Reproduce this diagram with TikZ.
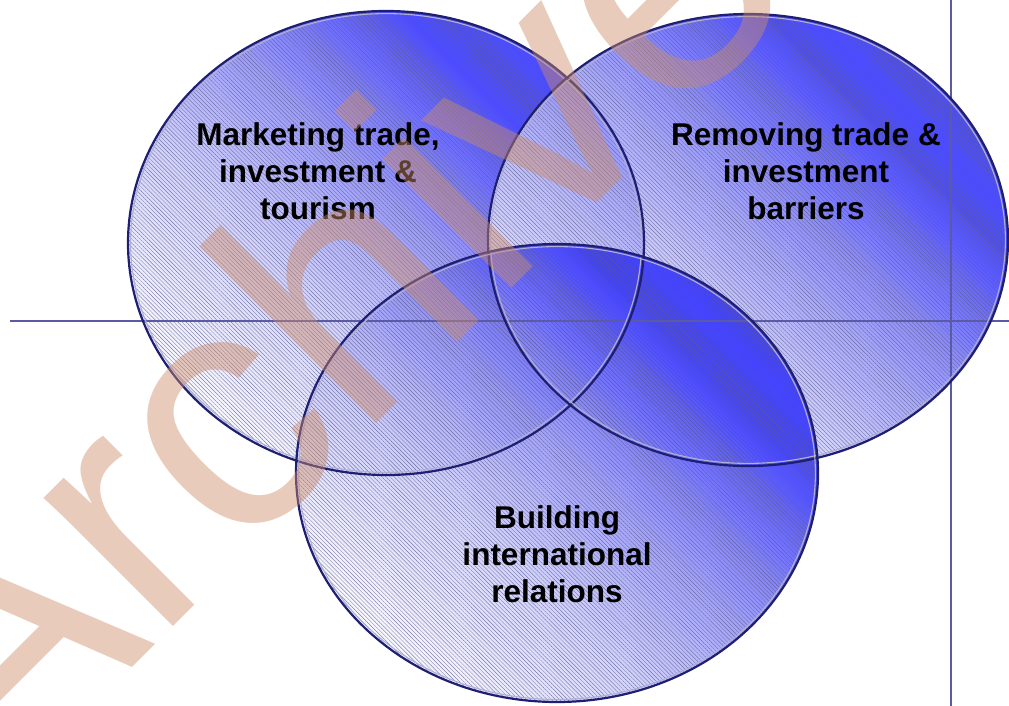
\documentclass[tikz,border=0pt]{standalone}
\usepackage{fontspec}
\setmainfont{Liberation Sans}
\usetikzlibrary{shapes.geometric,patterns.meta}

\definecolor{vlight}{RGB}{246,246,255}
\definecolor{vsoft}{RGB}{200,200,252}
\definecolor{vmid}{RGB}{135,135,250}
\definecolor{vdark}{RGB}{45,45,255}
\definecolor{rimdark}{RGB}{30,30,115}
\definecolor{rimlight}{RGB}{175,175,215}
\definecolor{hatch}{RGB}{95,95,140}
\definecolor{guide}{RGB}{90,90,165}
\definecolor{stamp}{RGB}{205,140,105}

% soft blue fill: pale at one end, saturated blue at the other
\pgfdeclarehorizontalshading{vennfill}{100bp}{%
  color(0bp)=(vlight); color(25bp)=(vlight); color(41bp)=(vsoft);
  color(54bp)=(vmid); color(68bp)=(vdark); color(100bp)=(vdark)}

\begin{document}
\begin{tikzpicture}[x=1pt,y=-1pt,
  vennfill/.style={ellipse, inner sep=0pt, outer sep=0pt,
    shading=vennfill, shading angle=45, fill opacity=0.85,
    postaction={pattern={Lines[angle=-45,distance=2.9pt,line width=0.28pt]},
                pattern color=hatch}},
  rimouter/.style={draw=rimdark, line width=2.2pt},
  riminner/.style={draw=rimlight, line width=1.1pt},
  guideline/.style={draw=guide, line width=1.1pt},
  caption/.style={align=center, text=black, inner sep=0pt,
    font=\bfseries\fontsize{31.5}{37}\selectfont},
  stamptext/.style={inner sep=0pt, text=stamp, text opacity=0.45,
    font=\fontsize{345}{345}\selectfont}]

\useasboundingbox (0,0) rectangle (1009,706);
\clip (0,0) rectangle (1009,706);

% filled circles of the Venn diagram
\node[vennfill, minimum width=516pt, minimum height=464pt] (mkt) at (386,243) {};
\node[vennfill, minimum width=520pt, minimum height=452pt] (rem) at (748,240) {};
\node[vennfill, minimum width=522pt, minimum height=458pt] (bld) at (557,473) {};

% guide lines
\coordinate (hl) at (10,321);
\coordinate (hr) at (1009,321);
\coordinate (vt) at (951,0);
\coordinate (vb) at (951,706);
\draw[guideline] (hl) -- (hr);
\draw[guideline] (vt) -- (vb);

% rims
\draw[rimouter] (mkt.center) ellipse [x radius=258, y radius=232];
\draw[riminner] (mkt.center) ellipse [x radius=255.4, y radius=229.4];
\draw[rimouter] (rem.center) ellipse [x radius=260, y radius=226];
\draw[riminner] (rem.center) ellipse [x radius=257.4, y radius=223.4];
\draw[rimouter] (bld.center) ellipse [x radius=261, y radius=229];
\draw[riminner] (bld.center) ellipse [x radius=258.4, y radius=226.4];

% labels
\node[caption] (tmkt) at (318,171) {Marketing trade,\\investment \&\\tourism};
\node[caption] (trem) at (806,171) {Removing trade \&\\investment\\barriers};
\node[caption] (tbld) at (557,554) {Building\\international\\relations};

% watermark
\node[stamptext, rotate=45, anchor=base west] (wm) at (-6.5,806.5) {Archive};
\end{tikzpicture}
\end{document}
